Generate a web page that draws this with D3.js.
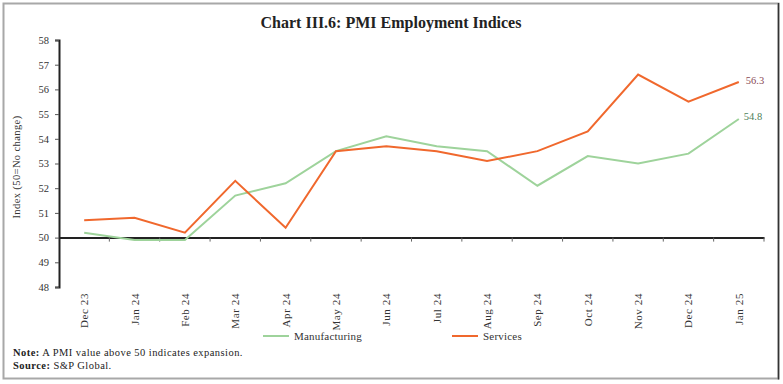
<!DOCTYPE html>
<html><head><meta charset="utf-8">
<script src="https://cdn.jsdelivr.net/npm/d3@7"></script>
<style>
html,body{margin:0;padding:0;background:#fff;}
svg{display:block;font-family:"Liberation Serif","DejaVu Serif",serif;}
</style></head>
<body>
<svg id="c" width="783" height="384"></svg>
<script>
const categories = ["Dec 23","Jan 24","Feb 24","Mar 24","Apr 24","May 24","Jun 24","Jul 24","Aug 24","Sep 24","Oct 24","Nov 24","Dec 24","Jan 25"];
const manufacturing = [50.2,49.9,49.9,51.7,52.2,53.5,54.1,53.7,53.5,52.1,53.3,53.0,53.4,54.8];
const services = [50.7,50.8,50.2,52.3,50.4,53.5,53.7,53.5,53.1,53.5,54.3,56.6,55.5,56.3];
const yTicks = [48,49,50,51,52,53,54,55,56,57,58];

const svg = d3.select("#c");
// frame
svg.append("rect").attr("x",3.5).attr("y",3.5).attr("width",775).attr("height",375)
  .attr("fill","none").attr("stroke","#a8a8a8").attr("stroke-width",2);
svg.append("line").attr("x1",778.5).attr("x2",778.5).attr("y1",3).attr("y2",379.5).attr("stroke","#333").attr("stroke-width",1.5);

svg.append("text").attr("x",391).attr("y",28).attr("text-anchor","middle")
  .attr("font-size",16).attr("font-weight","bold").attr("fill","#222")
  .text("Chart III.6: PMI Employment Indices");

const x = d3.scaleBand().domain(categories).range([59,764]);
const y = d3.scaleLinear().domain([48,58]).range([287,40]);

// y axis
const ya = svg.append("g").attr("transform","translate(59,0)")
  .call(d3.axisLeft(y).tickValues(yTicks).tickSize(4).tickPadding(6).tickFormat(d3.format("d")));
ya.select(".domain").attr("stroke","#222").attr("stroke-width",2);
ya.selectAll(".tick line").attr("stroke","#555");
ya.selectAll("text").attr("font-size",10.5).attr("fill","#333").attr("font-family","Liberation Serif");

svg.append("text").attr("transform","translate(20,167) rotate(-90)").attr("text-anchor","middle")
  .attr("font-size",10.5).attr("letter-spacing",0.4).attr("fill","#333").text("Index (50=No change)");

// x axis at y=50
const xa = svg.append("g").attr("transform",`translate(0,${y(50)})`)
  .call(d3.axisBottom(x).tickSize(0).tickFormat(""));
xa.select(".domain").attr("stroke","#222").attr("stroke-width",2);
// boundary ticks
const bounds = categories.slice(1).map(c => x(c)).concat([x.range()[1]]);
xa.selectAll("line.bt").data(bounds).join("line").attr("class","bt")
  .attr("x1",d=>d).attr("x2",d=>d).attr("y1",0).attr("y2",4).attr("stroke","#666");

// x labels
svg.append("g").selectAll("text").data(categories).join("text")
  .attr("transform",d=>`translate(${x(d)+x.bandwidth()/2+4},293) rotate(-90)`)
  .attr("text-anchor","end").attr("font-size",11).attr("letter-spacing",0.6).attr("fill","#333").text(d=>d);

const cx = (d,i)=>x(categories[i])+x.bandwidth()/2;
const line = d3.line().x((d,i)=>cx(d,i)).y(d=>y(d));
const green = "#9ed39b", orange = "#f0682d";
svg.append("path").datum(manufacturing).attr("d",line).attr("fill","none").attr("stroke",green).attr("stroke-width",2);
svg.append("path").datum(services).attr("d",line).attr("fill","none").attr("stroke",orange).attr("stroke-width",2);

const last = categories.length-1;
svg.append("text").attr("x",cx(0,last)+7).attr("y",y(services[last])+2).attr("font-size",10.5).attr("fill","#8a4a55")
  .text(services[last].toFixed(1));
svg.append("text").attr("x",cx(0,last)+5).attr("y",y(manufacturing[last])+1).attr("font-size",10.5).attr("fill","#4e7f5a")
  .text(manufacturing[last].toFixed(1));

// legend
const leg = [{n:"Manufacturing",c:green,x:263},{n:"Services",c:orange,x:452}];
leg.forEach(l=>{
  svg.append("line").attr("x1",l.x).attr("x2",l.x+26).attr("y1",336).attr("y2",336).attr("stroke",l.c).attr("stroke-width",2);
  svg.append("text").attr("x",l.x+31).attr("y",339.5).attr("font-size",11).attr("letter-spacing",0.2).attr("fill","#333").text(l.n);
});

// notes
const n1 = svg.append("text").attr("x",13).attr("y",356).attr("font-size",10.5).attr("letter-spacing",0.45).attr("fill","#222");
n1.append("tspan").attr("font-weight","bold").text("Note:");
n1.append("tspan").text(" A PMI value above 50 indicates expansion.");
const n2 = svg.append("text").attr("x",13).attr("y",369).attr("font-size",10.5).attr("letter-spacing",0.45).attr("fill","#222");
n2.append("tspan").attr("font-weight","bold").text("Source:");
n2.append("tspan").text(" S&P Global.");
</script>
</body></html>
